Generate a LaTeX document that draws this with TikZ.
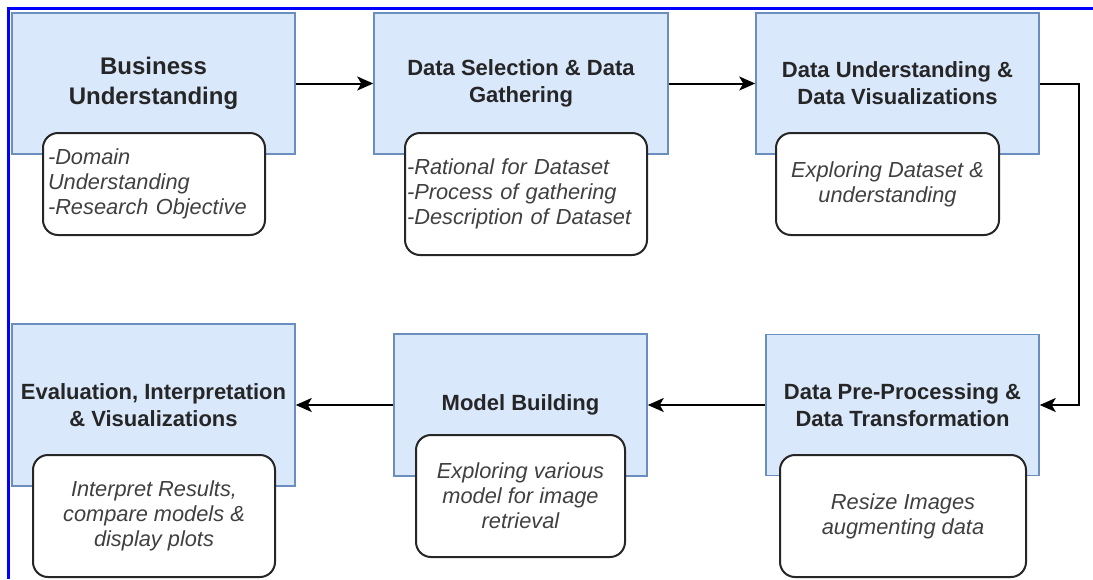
\documentclass[tikz,border=0pt]{standalone}
\usepackage{fontspec}
\setmainfont{Liberation Sans}
\usetikzlibrary{positioning,arrows.meta}
\definecolor{stagefill}{HTML}{DAE8FC}
\definecolor{stageline}{HTML}{6C8EBF}
\definecolor{frameblue}{HTML}{0000FF}

\begin{document}
\begin{tikzpicture}[x=1pt,y=-1pt,
    stage/.style={rectangle,draw=stageline,fill=stagefill,line width=1.5pt,align=center,text=black!85,
        font=\fontsize{22}{27}\selectfont\bfseries,minimum height=141pt},
    note/.style={rectangle,rounded corners=15pt,draw=black!85,fill=white,line width=2pt,text=black!75,
        font=\fontsize{21.8}{25}\selectfont\itshape,minimum height=122pt},
    flow/.style={line width=2pt,-{Stealth[length=16pt,width=14pt,inset=4pt]}}]
        \useasboundingbox (0,0) rectangle (1093,579);
        \draw[frameblue,line width=3pt] (8.5,579) -- (8.5,8.5) -- (1093,8.5);
        \node[stage,minimum width=283pt,font=\fontsize{24}{30}\selectfont\bfseries] (business) at (153.5,83.5) {Business\\Understanding};
        \node[stage,minimum width=294pt] (selection) at (521,83.5) {Data Selection \& Data\\Gathering};
        \node[stage,minimum width=283pt] (understanding) at (897.5,83.5) {Data Understanding \&\\Data Visualizations};
        \node[stage,minimum width=283pt,minimum height=162pt] (evaluation) at (153.5,405) {Evaluation, Interpretation\\\& Visualizations};
        \node[stage,minimum width=253pt,minimum height=142pt] (modelling) at (520.5,405) {Model Building};
        \node[stage,minimum width=273pt] (preprocess) at (902.5,405) {Data Pre-Processing \&\\Data Transformation};
        \node[note,minimum height=102pt,align=left,text width=212pt,inner xsep=5pt] (domain) at (154,184) {-Domain\\Understanding\\-Research Objective};
        \node[note,align=left,text width=238pt,inner xsep=2pt] (dataset) at (526,194) {-Rational for Dataset\\-Process of gathering\\-Description of Dataset};
        \node[note,minimum width=223pt,minimum height=102pt,align=center] (explore) at (887.5,184) {Exploring Dataset \&\\understanding};
        \node[note,minimum width=242pt,align=center] (results) at (154,516) {Interpret Results,\\compare models \&\\display plots};
        \node[note,minimum width=209pt,align=center] (models) at (520.5,496) {Exploring various\\model for image\\retrieval};
        \node[note,minimum width=246pt,align=center] (resize) at (903,516) {Resize Images\\augmenting data};
        \coordinate (bend) at (1079,83.5);
        \draw[flow] (business) -- (selection);
        \draw[flow] (selection) -- (understanding);
        \draw[flow] (understanding.east) -- (bend) |- (preprocess.east);
        \draw[flow] (preprocess) -- (modelling);
        \draw[flow] (modelling) -- (evaluation);
    \end{tikzpicture}
\end{document}
